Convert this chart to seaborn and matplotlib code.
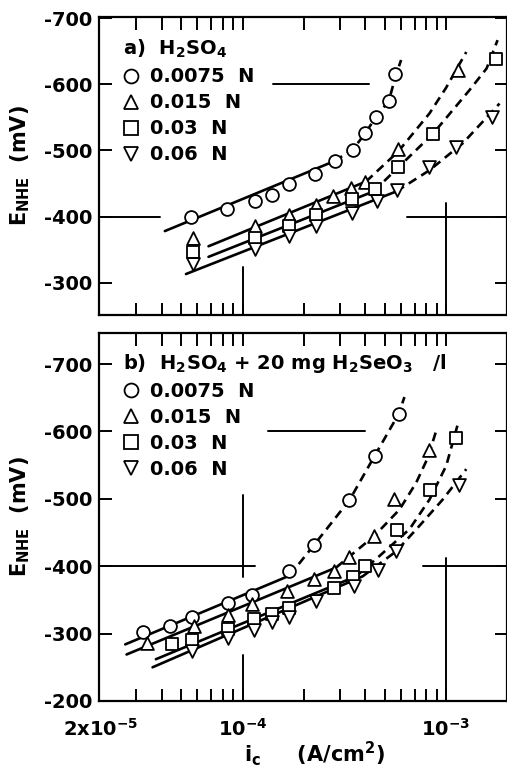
import numpy as np
import pandas as pd
import matplotlib
matplotlib.use("Agg")
import matplotlib.pyplot as plt
from matplotlib.lines import Line2D
import seaborn as sns

# ---------------- data ----------------
labels = ["0.0075  N", "0.015  N", "0.03  N", "0.06  N"]
markers = ["o", "^", "s", "v"]

# panel a) H2SO4 : measured points
a_i_0075 = [5.6e-5, 8.4e-5, 1.15e-4, 1.39e-4, 1.70e-4, 2.28e-4, 2.83e-4, 3.49e-4, 4.01e-4, 4.50e-4, 5.23e-4, 5.64e-4]
a_E_0075 = [-400, -411, -424, -433, -449, -464, -484, -501, -526, -550, -575, -615]
a_i_015 = [5.7e-5, 1.15e-4, 1.70e-4, 2.30e-4, 2.79e-4, 3.39e-4, 4.01e-4, 5.81e-4, 1.14e-3]
a_E_015 = [-367, -385, -402, -418, -431, -443, -453, -502, -622]
a_i_03 = [5.7e-5, 1.15e-4, 1.70e-4, 2.30e-4, 3.43e-4, 4.49e-4, 5.81e-4, 8.6e-4, 1.75e-3]
a_E_03 = [-347, -367, -386, -402, -427, -442, -475, -525, -639]
a_i_06 = [5.7e-5, 1.15e-4, 1.70e-4, 2.30e-4, 3.43e-4, 4.56e-4, 5.75e-4, 8.28e-4, 1.12e-3, 1.68e-3]
a_E_06 = [-328, -351, -371, -385, -406, -424, -440, -475, -505, -550]

# panel a) fitted curves (solid Tafel part, dashed upper part)
a_fit_solid_i = [[4.15e-5, 2.83e-4], [6.8e-5, 4.04e-4], [6.8e-5, 4.4e-4], [5.27e-5, 5.69e-4]]
a_fit_solid_E = [[-378, -484], [-355, -453], [-339, -438], [-313, -438]]
a_fit_dash_i = [[2.83e-4, 3.49e-4, 4.01e-4, 4.50e-4, 5.23e-4, 5.64e-4, 6.01e-4],
                [4.04e-4, 5.8e-4, 8.28e-4, 1.0e-3, 1.256e-3],
                [4.4e-4, 5.8e-4, 8.6e-4, 1.30e-3, 1.58e-3, 1.79e-3],
                [5.69e-4, 8.28e-4, 1.208e-3, 1.83e-3]]
a_fit_dash_E = [[-484, -502, -526, -550, -575, -612, -637],
                [-453, -498, -556, -595, -649],
                [-438, -474, -525, -591, -624, -667],
                [-438, -470, -511, -571]]

# panel b) H2SO4 + 20 mg H2SeO3 / l : measured points
b_i_0075 = [3.25e-5, 4.41e-5, 5.66e-5, 8.44e-5, 1.11e-4, 1.70e-4, 2.25e-4, 3.35e-4, 4.46e-4, 5.85e-4]
b_E_0075 = [-302, -312, -325, -345, -358, -393, -432, -498, -564, -626]
b_i_015 = [3.41e-5, 5.79e-5, 8.47e-5, 1.11e-4, 1.65e-4, 2.25e-4, 2.81e-4, 3.32e-4, 4.40e-4, 5.55e-4, 8.25e-4]
b_E_015 = [-286, -311, -327, -344, -363, -381, -393, -413, -445, -500, -573]
b_i_03 = [4.50e-5, 5.64e-5, 8.44e-5, 1.14e-4, 1.40e-4, 1.70e-4, 2.80e-4, 3.48e-4, 4.01e-4, 5.75e-4, 8.29e-4, 1.112e-3]
b_E_03 = [-284, -291, -307, -321, -329, -338, -368, -384, -400, -453, -513, -590]
b_i_06 = [5.64e-5, 8.5e-5, 1.14e-4, 1.40e-4, 1.70e-4, 2.29e-4, 3.52e-4, 4.61e-4, 5.66e-4, 1.155e-3]
b_E_06 = [-274, -294, -306, -317, -325, -349, -370, -394, -423, -520]

b_fit_solid_i = [[2.65e-5, 1.70e-4], [2.69e-5, 2.88e-4], [3.75e-5, 3.61e-4], [3.61e-5, 3.89e-4]]
b_fit_solid_E = [[-284, -386], [-269, -398], [-262, -385], [-250, -385]]
b_fit_dash_i = [[1.70e-4, 2.25e-4, 3.35e-4, 4.46e-4, 5.85e-4, 6.24e-4],
                [2.88e-4, 4.44e-4, 5.90e-4, 7.13e-4, 8.13e-4, 8.94e-4],
                [3.61e-4, 4.70e-4, 6.61e-4, 8.29e-4, 1.001e-3, 1.142e-3],
                [3.89e-4, 5.68e-4, 7.40e-4, 9.63e-4, 1.256e-3]]
b_fit_dash_E = [[-386, -432, -498, -564, -626, -651],
                [-398, -445, -484, -524, -561, -601],
                [-385, -415, -455, -499, -549, -611],
                [-385, -422, -460, -499, -544]]

a_title = "a)  H$_2$SO$_4$"
b_title = "b)  H$_2$SO$_4$ + 20 mg H$_2$SeO$_3$   /l"

y_ticks_a = [-700, -600, -500, -400, -300]
y_ticks_b = [-700, -600, -500, -400, -300, -200]
x_major = [2e-5, 1e-4, 1e-3]
x_major_labels = ["2x10$^{-5}$", "10$^{-4}$", "10$^{-3}$"]
x_minor = [3e-5, 4e-5, 5e-5, 6e-5, 7e-5, 8e-5, 9e-5,
           2e-4, 3e-4, 4e-4, 5e-4, 6e-4, 7e-4, 8e-4, 9e-4]

# ---------------- style ----------------
sns.set_theme(style="ticks")
plt.rcParams["font.family"] = ["DejaVu Sans"]
plt.rcParams["font.weight"] = "bold"
plt.rcParams["mathtext.fontset"] = "dejavusans"
plt.rcParams["mathtext.default"] = "bf"
plt.rcParams["axes.unicode_minus"] = False
for key in ("text.color", "axes.labelcolor", "xtick.color", "ytick.color",
            "axes.edgecolor", "legend.labelcolor"):
    plt.rcParams[key] = "black"

fig = plt.figure(figsize=(5.07, 7.68), dpi=100)
fig.patch.set_facecolor("white")
W, H = 507.0, 768.0
left, right = 99, 506.5
ax_a = fig.add_axes([left / W, 1 - 315 / H, (right - left) / W, (315 - 17) / H])
ax_b = fig.add_axes([left / W, 1 - 701 / H, (right - left) / W, (701 - 333) / H])

LW = 1.9
MS = 85


def draw_panel(ax, pts, solid_i, solid_E, dash_i, dash_E):
    for k in range(4):
        d = pd.DataFrame({"i": solid_i[k], "E": solid_E[k]})
        sns.lineplot(data=d, x="i", y="E", ax=ax, color="black", lw=LW,
                     sort=False, estimator=None, zorder=2)
        d = pd.DataFrame({"i": dash_i[k], "E": dash_E[k]})
        sns.lineplot(data=d, x="i", y="E", ax=ax, color="black", lw=LW,
                     sort=False, estimator=None, zorder=2,
                     linestyle=(0, (3.4, 2.2)))
    for k, (xi, yi) in enumerate(pts):
        d = pd.DataFrame({"i": xi, "E": yi})
        sns.scatterplot(data=d, x="i", y="E", ax=ax, marker=markers[k], s=MS,
                        facecolor="white", edgecolor="black", linewidth=1.3,
                        zorder=3)


for ax in (ax_a, ax_b):
    ax.set_xscale("log")

draw_panel(ax_a, [(a_i_0075, a_E_0075), (a_i_015, a_E_015), (a_i_03, a_E_03), (a_i_06, a_E_06)],
           a_fit_solid_i, a_fit_solid_E, a_fit_dash_i, a_fit_dash_E)
draw_panel(ax_b, [(b_i_0075, b_E_0075), (b_i_015, b_E_015), (b_i_03, b_E_03), (b_i_06, b_E_06)],
           b_fit_solid_i, b_fit_solid_E, b_fit_dash_i, b_fit_dash_E)

ax_a.set_ylim(-251, -702)
ax_b.set_ylim(-200, -746)

for ax, yt in ((ax_a, y_ticks_a), (ax_b, y_ticks_b)):
    ax.set_xlim(1.97e-5, 1.98e-3)
    ax.set_xticks(x_major)
    ax.set_xticks(x_minor, minor=True)
    ax.xaxis.set_minor_formatter(matplotlib.ticker.NullFormatter())
    ax.set_yticks(yt, labels=["-%d" % abs(v) for v in yt])
    ax.tick_params(axis="both", which="both", direction="in", top=True, right=True,
                   length=9, width=1.4, colors="black", labelsize=14, pad=5)
    ax.tick_params(axis="x", which="major", pad=12)
    ax.xaxis.get_major_ticks()[0].tick1line.set_visible(False)
    ax.xaxis.get_major_ticks()[0].tick2line.set_visible(False)
    for sp in ax.spines.values():
        sp.set_linewidth(1.6)
        sp.set_color("black")
    ax.set_facecolor("white")
    ax.set_ylabel("E$_{\\mathregular{NHE}}$  (mV)", fontsize=15, fontweight="bold",
                  color="black")
    ax.yaxis.set_label_coords(-0.165, 0.5)
    for t in ax.get_yticklabels() + ax.get_xticklabels():
        t.set_fontweight("bold")

ax_a.set_xticklabels([])
ax_a.set_xlabel("")
ax_b.set_xticks(x_major, labels=x_major_labels)
ax_b.set_xlabel("i$_{\\mathregular{c}}$     (A/cm$^{\\mathregular{2}}$)", fontsize=15,
                fontweight="bold", color="black")
ax_b.xaxis.set_label_coords(0.53, -0.105)

# partial reference lines (crosshair marks of the original grid)
gl = dict(color="black", lw=1.4, zorder=1)
ax_a.axhline(-600, 0.426, 0.662, **gl)
ax_a.axhline(-400, 0.0, 0.15, **gl)
ax_a.axhline(-400, 0.757, 1.0, **gl)
ax_a.axvline(1e-4, 0.0, 0.161, **gl)
ax_a.axvline(1e-3, 0.0, 0.376, **gl)

ax_b.axhline(-600, 0.414, 0.652, **gl)
ax_b.axhline(-400, 0.0, 0.382, **gl)
ax_b.axhline(-400, 0.794, 1.0, **gl)
ax_b.axvline(1e-4, 0.337, 0.56, **gl)
ax_b.axvline(1e-4, 0.0, 0.125, **gl)
ax_b.axvline(1e-3, 0.0, 0.389, **gl)

# legends
for ax, title, anchor, spacing in ((ax_a, a_title, (0.04, 0.955), 0.36),
                                   (ax_b, b_title, (0.04, 0.97), 0.36)):
    handles = [Line2D([], [], linestyle="none", marker=m, markersize=10,
                      markerfacecolor="white", markeredgecolor="black",
                      markeredgewidth=1.3) for m in markers]
    leg = ax.legend(handles, labels, title=title, loc="upper left",
                    bbox_to_anchor=anchor, frameon=False,
                    prop={"size": 14, "weight": "bold"},
                    title_fontproperties={"size": 14, "weight": "bold"},
                    handlelength=0.8, handletextpad=0.6, labelspacing=spacing,
                    borderaxespad=0.0, alignment="left")
    leg.get_title().set_color("black")
    for t in leg.get_texts():
        t.set_color("black")

fig.savefig("out.png", dpi=100, facecolor="white")
